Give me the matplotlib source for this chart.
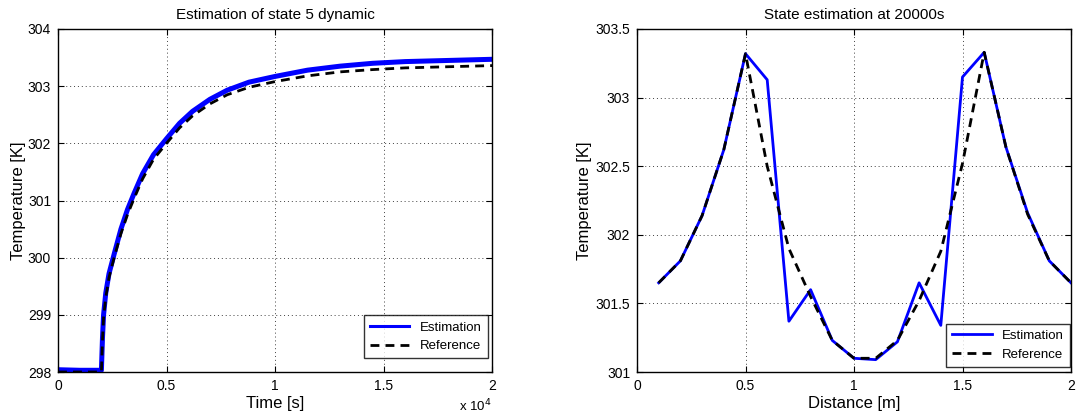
import matplotlib
matplotlib.use("Agg")
import matplotlib.pyplot as plt
from matplotlib.ticker import FuncFormatter, FixedLocator

plt.rcParams['font.family'] = ['Liberation Sans', 'DejaVu Sans']

# ---- Left chart data: state 5 dynamic ----
time_s = [0, 1000, 2000, 2050, 2100, 2200, 2350, 2600, 2900, 3200, 3500, 3900,
          4400, 5000, 5600, 6200, 7000, 7800, 8800, 10000, 11500, 13000, 14500,
          16000, 18000, 20000]
ref_state5 = [298.00, 298.00, 298.00, 298.55, 298.95, 299.30, 299.65, 300.02,
              300.42, 300.75, 301.03, 301.38, 301.72, 302.00, 302.27, 302.48,
              302.69, 302.85, 302.98, 303.08, 303.18, 303.25, 303.29, 303.32,
              303.34, 303.36]
est_state5 = [298.04, 298.03, 298.03, 298.60, 299.00, 299.38, 299.72, 300.08,
              300.50, 300.84, 301.12, 301.47, 301.80, 302.08, 302.35, 302.56,
              302.77, 302.93, 303.07, 303.17, 303.28, 303.35, 303.40, 303.43,
              303.45, 303.47]

# ---- Right chart data: profile at 20000 s ----
distance_m = [0.1, 0.2, 0.3, 0.4, 0.5, 0.6, 0.7, 0.8, 0.9, 1.0,
              1.1, 1.2, 1.3, 1.4, 1.5, 1.6, 1.7, 1.8, 1.9, 2.0]
est_profile = [301.65, 301.81, 302.14, 302.62, 303.32, 303.13, 301.37, 301.60,
               301.23, 301.10, 301.09, 301.22, 301.65, 301.34, 303.15, 303.33,
               302.64, 302.16, 301.81, 301.65]
ref_profile = [301.65, 301.81, 302.14, 302.62, 303.32, 302.50, 301.90, 301.55,
               301.23, 301.10, 301.10, 301.23, 301.52, 301.88, 302.52, 303.33,
               302.64, 302.15, 301.81, 301.65]

left_xticks = [0, 5000, 10000, 15000, 20000]
left_yticks = [298, 299, 300, 301, 302, 303, 304]
right_xticks = [0, 0.5, 1, 1.5, 2]
right_yticks = [301, 301.5, 302, 302.5, 303, 303.5]

W, H = 1077, 418
fig = plt.figure(figsize=(W / 100, H / 100), dpi=100)
axL = fig.add_axes([58 / W, (H - 372) / H, 434 / W, 343 / H])
axR = fig.add_axes([637 / W, (H - 372) / H, 434 / W, 343 / H])

blue = '#0000ff'
dash = (0, (3.2, 2.2))


def style(ax):
    ax.grid(True, linestyle=(0, (1, 3)), color='0.25', linewidth=0.7)
    ax.tick_params(direction='in', top=True, right=True, length=4,
                   width=0.8, labelsize=10, pad=5)
    for s in ax.spines.values():
        s.set_linewidth(1.0)
        s.set_color('black')


# Left
axL.plot(time_s, est_state5, color=blue, lw=3.6, label='Estimation',
         solid_joinstyle='round')
axL.plot(time_s, ref_state5, color='black', lw=2.0, linestyle=dash,
         label='Reference')
axL.set_xlim(0, 20000)
axL.set_ylim(298, 304)
axL.xaxis.set_major_locator(FixedLocator(left_xticks))
axL.yaxis.set_major_locator(FixedLocator(left_yticks))
axL.xaxis.set_major_formatter(FuncFormatter(lambda v, p: f"{v / 1e4:g}"))
axL.set_title('Estimation of state 5 dynamic', fontsize=11, pad=7)
axL.set_xlabel('Time [s]', fontsize=12, labelpad=2)
axL.set_ylabel('Temperature [K]', fontsize=12, labelpad=1)
axL.text(1.0, -0.1, r'x 10$^{4}$', transform=axL.transAxes,
         ha='right', va='center', fontsize=9.5)
style(axL)
legL = axL.legend(loc='lower right', bbox_to_anchor=(0.99, 0.04),
                  fontsize=9.5, frameon=True, fancybox=False,
                  edgecolor='black', handlelength=3.0, borderpad=0.45,
                  labelspacing=0.5, borderaxespad=0)
legL.get_frame().set_linewidth(1.0)
legL.get_lines()[0].set_linewidth(2.2)

# Right
axR.plot(distance_m, est_profile, color=blue, lw=2.0, label='Estimation')
axR.plot(distance_m, ref_profile, color='black', lw=2.0, linestyle=dash,
         label='Reference')
axR.set_xlim(0, 2)
axR.set_ylim(301, 303.5)
axR.xaxis.set_major_locator(FixedLocator(right_xticks))
axR.yaxis.set_major_locator(FixedLocator(right_yticks))
axR.xaxis.set_major_formatter(FuncFormatter(lambda v, p: f"{v:g}"))
axR.yaxis.set_major_formatter(FuncFormatter(lambda v, p: f"{v:g}"))
axR.set_title('State estimation at 20000s', fontsize=11, pad=7)
axR.set_xlabel('Distance [m]', fontsize=12, labelpad=2)
axR.set_ylabel('Temperature [K]', fontsize=12, labelpad=2)
style(axR)
legR = axR.legend(loc='lower right', bbox_to_anchor=(0.998, 0.015),
                  fontsize=9.5, frameon=True, fancybox=False,
                  edgecolor='black', handlelength=3.0, borderpad=0.45,
                  labelspacing=0.5, borderaxespad=0)
legR.get_frame().set_linewidth(1.0)

fig.savefig('out.png', dpi=100)
